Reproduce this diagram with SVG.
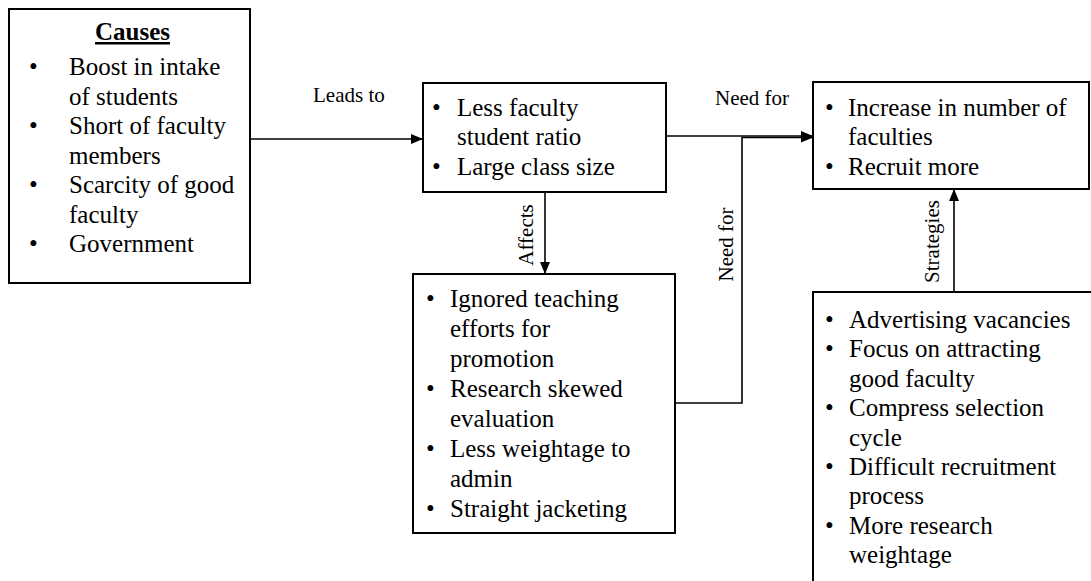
<svg xmlns="http://www.w3.org/2000/svg" width="1091" height="581" viewBox="0 0 1091 581" font-family="'Liberation Serif', 'Times New Roman', Tinos, 'Noto Serif', 'DejaVu Serif', 'Nimbus Roman', FreeSerif, serif">
<defs>
<style>
.box{fill:#fff;stroke:#000;stroke-width:2}
.t{font-size:25px;fill:#000}
.lbl{font-size:21px;fill:#000}
.con{fill:none;stroke:#000;stroke-width:1.6}
</style>
<marker id="ah" markerWidth="12" markerHeight="10" refX="12" refY="5" orient="auto" markerUnits="userSpaceOnUse"><path d="M0,0 L12,5 L0,10 z" fill="#000"/></marker>
</defs>
<rect width="1091" height="581" fill="#fff"/>

<g id="causes">
<rect class="box" x="9" y="9" width="241" height="274"/>
<text class="t" x="132.5" y="40" text-anchor="middle" font-weight="bold" text-decoration="underline">Causes</text>
<text class="t" x="29" y="75">•</text>
<text class="t" x="69" y="75">Boost in intake</text>
<text class="t" x="69" y="104.5">of students</text>
<text class="t" x="29" y="134">•</text>
<text class="t" x="69" y="134">Short of faculty</text>
<text class="t" x="69" y="163.5">members</text>
<text class="t" x="29" y="193">•</text>
<text class="t" x="69" y="193">Scarcity of good</text>
<text class="t" x="69" y="222.5">faculty</text>
<text class="t" x="29" y="252">•</text>
<text class="t" x="69" y="252">Government</text>
</g>

<g id="ratio">
<rect class="box" x="423" y="83" width="243" height="109"/>
<text class="t" x="432" y="115.5">•</text>
<text class="t" x="457" y="115.5">Less faculty</text>
<text class="t" x="457" y="145">student ratio</text>
<text class="t" x="432" y="174.5">•</text>
<text class="t" x="457" y="174.5">Large class size</text>
</g>

<g id="need">
<rect class="box" x="813" y="82" width="276" height="107"/>
<text class="t" x="825" y="115.5">•</text>
<text class="t" x="848" y="115.5">Increase in number of</text>
<text class="t" x="848" y="145">faculties</text>
<text class="t" x="825" y="174.5">•</text>
<text class="t" x="848" y="174.5">Recruit more</text>
</g>

<g id="effects">
<rect class="box" x="413" y="274" width="262" height="259"/>
<text class="t" x="426" y="307">•</text>
<text class="t" x="450" y="307">Ignored teaching</text>
<text class="t" x="450" y="337">efforts for</text>
<text class="t" x="450" y="367">promotion</text>
<text class="t" x="426" y="397">•</text>
<text class="t" x="450" y="397">Research skewed</text>
<text class="t" x="450" y="427">evaluation</text>
<text class="t" x="426" y="457">•</text>
<text class="t" x="450" y="457">Less weightage to</text>
<text class="t" x="450" y="487">admin</text>
<text class="t" x="426" y="517">•</text>
<text class="t" x="450" y="517">Straight jacketing</text>
</g>

<g id="strategies">
<rect class="box" x="813" y="292" width="300" height="320"/>
<text class="t" x="825" y="328">•</text>
<text class="t" x="849" y="328">Advertising vacancies</text>
<text class="t" x="825" y="357.4">•</text>
<text class="t" x="849" y="357.4">Focus on attracting</text>
<text class="t" x="849" y="386.8">good faculty</text>
<text class="t" x="825" y="416.2">•</text>
<text class="t" x="849" y="416.2">Compress selection</text>
<text class="t" x="849" y="445.6">cycle</text>
<text class="t" x="825" y="475">•</text>
<text class="t" x="849" y="475">Difficult recruitment</text>
<text class="t" x="849" y="504.4">process</text>
<text class="t" x="825" y="533.8">•</text>
<text class="t" x="849" y="533.8">More research</text>
<text class="t" x="849" y="563.2">weightage</text>
</g>

<g id="connectors">
<line class="con" x1="250" y1="139" x2="423" y2="139" marker-end="url(#ah)"/>
<text class="lbl" x="313" y="102">Leads to</text>
<line class="con" x1="666" y1="136" x2="813" y2="136" marker-end="url(#ah)"/>
<text class="lbl" x="715" y="105">Need for</text>
<polyline class="con" points="675,403 742,403 742,137.5 813,137.5" marker-end="url(#ah)"/>
<text class="lbl" transform="translate(733,244.5) rotate(-90)" text-anchor="middle">Need for</text>
<line class="con" x1="545" y1="192" x2="545" y2="274" marker-end="url(#ah)"/>
<text class="lbl" transform="translate(533,235) rotate(-90)" text-anchor="middle">Affects</text>
<line class="con" x1="954" y1="292" x2="954" y2="189" marker-end="url(#ah)"/>
<text class="lbl" transform="translate(939,241.5) rotate(-90)" text-anchor="middle">Strategies</text>
</g>
</svg>
